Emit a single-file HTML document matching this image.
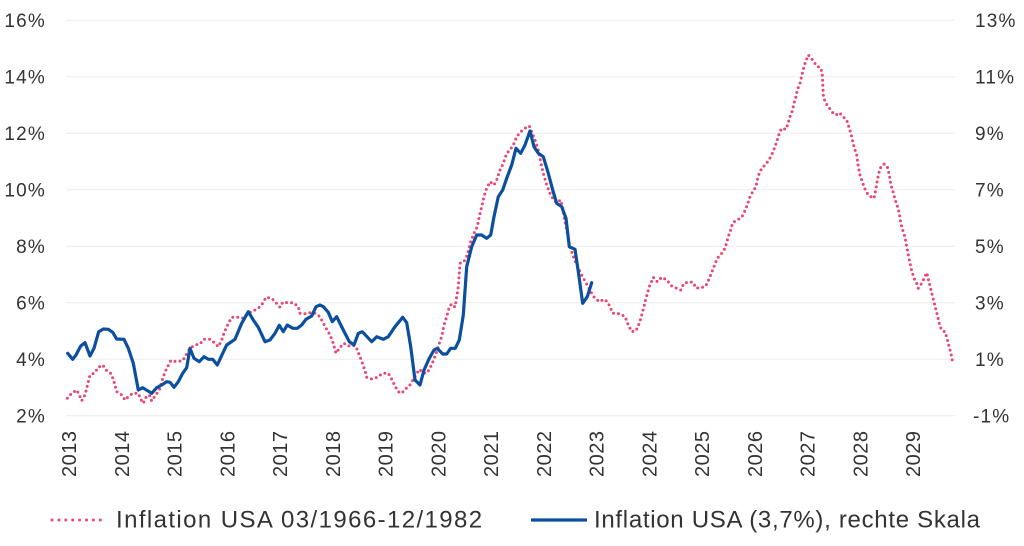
<!DOCTYPE html>
<html><head><meta charset="utf-8"><style>
html,body{margin:0;padding:0;background:#fff;}
svg{display:block;font-family:"Liberation Sans",sans-serif;}
</style></head><body>
<svg width="1024" height="546" viewBox="0 0 1024 546" xmlns="http://www.w3.org/2000/svg">
<rect width="1024" height="546" fill="#fff"/>
<g stroke="#ececec" stroke-width="1">
<line x1="66" x2="955" y1="20.3" y2="20.3"/>
<line x1="66" x2="955" y1="76.8" y2="76.8"/>
<line x1="66" x2="955" y1="133.3" y2="133.3"/>
<line x1="66" x2="955" y1="189.8" y2="189.8"/>
<line x1="66" x2="955" y1="246.3" y2="246.3"/>
<line x1="66" x2="955" y1="302.8" y2="302.8"/>
<line x1="66" x2="955" y1="359.2" y2="359.2"/>
<line x1="66" x2="955" y1="415.7" y2="415.7"/>
</g>
<g fill="#333" font-size="19" letter-spacing="1.2" text-anchor="end">
<text x="46" y="27">16%</text>
<text x="46" y="83.5">14%</text>
<text x="46" y="140">12%</text>
<text x="46" y="196.5">10%</text>
<text x="46" y="253">8%</text>
<text x="46" y="309.5">6%</text>
<text x="46" y="366">4%</text>
<text x="46" y="422.5">2%</text>
</g>
<g fill="#333" font-size="19" letter-spacing="1.2" text-anchor="start">
<text x="975" y="27">13%</text>
<text x="975" y="83.5">11%</text>
<text x="975" y="140">9%</text>
<text x="975" y="196.5">7%</text>
<text x="975" y="253">5%</text>
<text x="975" y="309.5">3%</text>
<text x="975" y="366">1%</text>
<text x="973" y="422.5">-1%</text>
</g>
<g fill="#333" font-size="20" letter-spacing="0.5">
<text transform="translate(76,477) rotate(-90)">2013</text>
<text transform="translate(128.75,477) rotate(-90)">2014</text>
<text transform="translate(181.5,477) rotate(-90)">2015</text>
<text transform="translate(234.25,477) rotate(-90)">2016</text>
<text transform="translate(287,477) rotate(-90)">2017</text>
<text transform="translate(339.75,477) rotate(-90)">2018</text>
<text transform="translate(392.5,477) rotate(-90)">2019</text>
<text transform="translate(445.25,477) rotate(-90)">2020</text>
<text transform="translate(498,477) rotate(-90)">2021</text>
<text transform="translate(550.75,477) rotate(-90)">2022</text>
<text transform="translate(603.5,477) rotate(-90)">2023</text>
<text transform="translate(656.25,477) rotate(-90)">2024</text>
<text transform="translate(709,477) rotate(-90)">2025</text>
<text transform="translate(761.75,477) rotate(-90)">2026</text>
<text transform="translate(814.5,477) rotate(-90)">2027</text>
<text transform="translate(867.25,477) rotate(-90)">2028</text>
<text transform="translate(920,477) rotate(-90)">2029</text>
</g>
<polyline fill="none" stroke="#ea4674" stroke-width="3" stroke-linecap="round" stroke-linejoin="round" stroke-dasharray="0 5" points="67.3,398.3 71.7,393.3 76.7,390 80,396.7 81.7,400.7 85,395 86.7,388.3 88.3,381.7 90,375 95,372.7 98.3,367.3 102.7,365 106.7,370.7 110.7,373.3 113.3,379.3 116.7,391.7 121.7,395 125,400 128.3,396.7 132.7,393.3 138.3,393.3 140.7,399.3 143.3,403.3 146,397.3 149.3,395 151.7,401 155,396 159.3,390 163.3,376.7 166,370 170.7,360.7 176.7,361.7 182.7,360.7 186,355 190,348.3 195,345 200,344 204,339.3 210,339.3 215,343.3 218.3,346.7 221.7,340 224,333.3 226.7,326.7 231.7,317.3 238.3,317.3 243.3,318.3 248.3,313.3 253,311 258.3,308.3 262.7,303.3 266,297.3 271.7,298.3 276,302.7 280,307.3 282.7,302.3 287.3,302.7 293.3,302.7 298.3,306.7 300,313.3 304,314 309.3,312.7 315,313.3 320,316.7 323.3,323.3 326.7,329.3 330,335 332.7,341.7 336,353.3 339.3,348.3 344,343.3 348.3,346 352.7,345 356,346.7 358.3,352.7 361,359.3 365,370.7 366.7,377.3 371.7,379 377.3,377.3 382.7,373.3 388.3,373.3 391.7,379.3 395,386 398.3,391.7 401.7,393.3 405,389.3 409.3,386 413.3,379.3 419.3,369.3 423.3,372.7 426.7,373.3 430,368.3 433.3,360.7 436.7,351.7 439.3,343.3 441.7,336.7 444,325 446.7,316.7 449.3,307 451.7,304 455,307 456.7,296.7 458.3,286.7 460,263.3 464,261.7 467.3,255 470.7,241.7 474,233.3 477.3,226.7 479.3,216.7 481.7,206.7 484,196.7 486,190 490,181.7 494,185 496.7,180 500,170 503.3,163.3 506.7,153.3 510,150 513.3,145 516.7,136.7 520.7,131.7 525,128.3 529.3,126 531.7,131.7 535,140 538.3,150 541,163.3 543.3,173.3 546.7,185 550,193.3 553.3,199.3 556.7,202.7 560.7,200 562.7,208.3 565,221.7 567.3,233.3 570,246.7 572.7,255 576,263.3 579.3,270 583.3,278.3 587.3,285 591.7,293.3 595,298.3 599.3,301.7 604,299.3 607.3,301.7 610,306.7 612.7,313.3 616,313.3 620.7,314 625,316.7 628.3,325 631.7,331.7 636,330.7 639.3,323.3 642.7,311.7 646,298.3 649.3,286.7 653.3,277.3 657.3,281.7 661.7,277.3 666.7,280 671.7,286 676.7,288.3 680.7,290 684,283.3 690,281.7 693.3,282.7 696,288.3 700,287.7 705,286.7 707.3,283.3 710,276.7 712.7,270 715,264 717.3,258.3 721.7,253.3 725,248.3 728.3,236.7 730.7,230 732.7,222.7 737.3,220 741.7,217.3 745,210.7 747.3,205 749.3,198.3 752.7,191.7 756,186.7 757.3,180 759.3,173.3 761.7,168.3 766,164 769.3,159.3 772.7,152.7 775,146.7 777.3,140 779.3,133.3 781.7,128.3 786,129.3 788.3,122.7 790,116.7 792.7,110 794,103.3 796,96.7 797.3,90 800,83.3 802.7,71.7 805,63.3 808.3,55 812.7,60 816.7,66 821,68.3 822.3,75 822.7,83.3 823.3,95 825,101.7 828.3,106.7 832.7,112.7 836,115 839.3,112.7 843.3,116.7 847.3,121.7 849.3,128.3 851.7,136.7 854,146.7 856.7,155 858.3,166.7 860,175 862.3,181.7 864,186.7 866.7,192.7 870.7,196.7 874,198.3 876,188.3 877.7,178.3 880,168.3 884,164 887.3,166.7 889.3,175 891,185 893.3,192.7 895,199.3 897.3,206 899.3,213.3 900.7,222.7 902.7,230 905,237.3 906.7,246.7 908.3,255 910,263.3 911.7,270.7 914,278.3 916.7,283.3 918.3,288.3 921.7,283.3 925,276.7 926.7,272.7 928.3,279.3 930,286 931.7,292.7 933.3,299.3 935,306 936.7,312.7 938.3,319.3 940,326.7 942.7,331 945,331.7 946.7,337.3 948.3,343.3 950,350 951.7,356.7 952.7,363.3"/>
<polyline fill="none" stroke="#0b4f9e" stroke-width="3.2" stroke-linecap="round" stroke-linejoin="round" points="67.7,353.3 72.7,359.3 76,355 80.7,346 85,342.7 90,356 94,348.3 98.7,331.7 103.3,329 108.3,329.3 112.7,332.3 116.7,339 124,339.3 128.3,348.3 133.3,363.3 138.3,390 142.7,387.7 151.7,393.3 156.7,387.7 161.7,385 166.7,381.7 170,382.3 174,387.3 178.3,381.7 182.7,373.3 186.7,367.7 190,348.3 194,358.3 199.3,361.7 204,356.7 208.3,359.3 212.7,359.3 217.3,365 222.7,353.3 226.7,345 235,339.3 241.7,323.3 248.3,311.7 253.3,320 258.3,327.3 265,341.7 270,340 275,333.3 279.3,325.3 283.3,331.7 287.3,325 292.7,328.3 297.3,328.3 301.7,325 306,319.3 311.7,316 316,306.7 320,305 323.3,306.7 328.3,312.3 332.3,321.7 336.7,316.7 343.3,330 349.3,341.7 354,345 358.3,333.3 362.3,331.7 371.7,341.7 376.7,336.7 383.3,339.3 388.3,336.7 395,326.7 402.7,317.3 406.7,322.7 410.7,346.7 415,380 420,385 424,370 429.3,358.3 434,350 437.3,348.3 442.7,354 446.7,354 450.7,348.3 455.3,348.3 459.3,340 463.3,315 466.7,266.7 471.7,246.7 476.7,235 481.7,235 486.7,238.3 490.7,235 494,216.7 498.3,196.7 502.7,190 506.7,178.3 511.7,165 516,148.3 520.7,153.3 525,145 530,131 534,146.7 538.3,153.3 543.3,156.7 548.3,173.3 552.7,190 556.7,203.3 561.7,206.7 566,218.3 569.3,246.7 575,249.3 578.3,271.7 582.7,303.3 587.3,296.7 591.7,282.7"/>
<line x1="52" x2="107" y1="520" y2="520" stroke="#ea4674" stroke-width="3" stroke-linecap="round" stroke-dasharray="0 6.9"/>
<text x="116" y="527.5" fill="#333" font-size="24" letter-spacing="1.4">Inflation USA 03/1966-12/1982</text>
<line x1="531" x2="587" y1="520" y2="520" stroke="#0b4f9e" stroke-width="3.2"/>
<text x="594" y="527.5" fill="#333" font-size="24" letter-spacing="0.7">Inflation USA (3,7%), rechte Skala</text>
</svg>
</body></html>
